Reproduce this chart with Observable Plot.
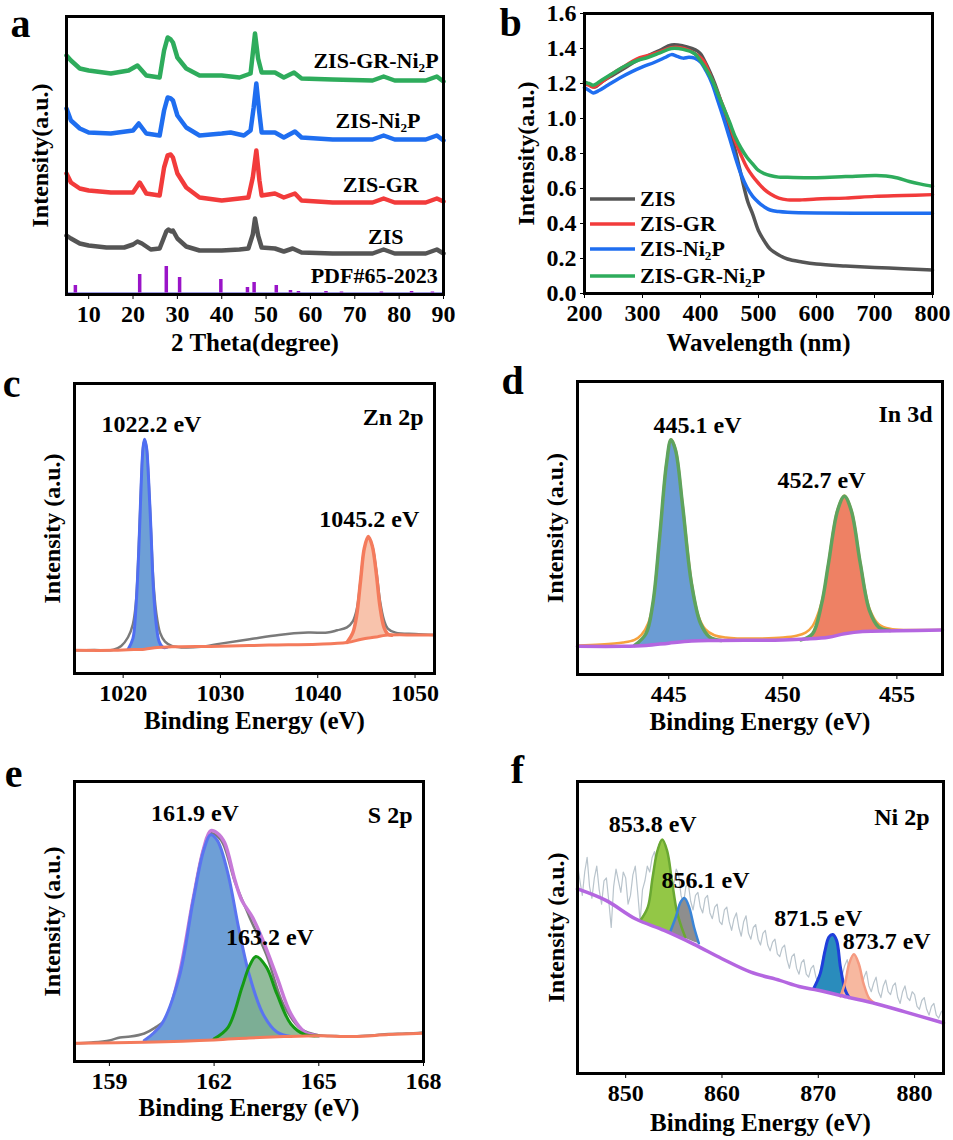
<!DOCTYPE html>
<html>
<head>
<meta charset="utf-8">
<script src="https://cdn.jsdelivr.net/npm/d3@7"></script>
<script src="https://cdn.jsdelivr.net/npm/@observablehq/plot@0.6"></script>
<style>
  body { margin: 0; background: white; }
  #fig { position: relative; width: 953px; height: 1140px; background: white; overflow: hidden; }
</style>
</head>
<body>
<div id="fig"></div>
<script>
// ---------------- Panel a: XRD ----------------
const aTicks = [10, 20, 30, 40, 50, 60, 70, 80, 90];
const xrdZIS = [[5,59],[6,56],[8,51],[10,49],[14,47],[18,47],[20,50],[21,53],[22,51],[24,45],[26,46],[26.8,55],[27.5,63],[28,65],[28.6,63],[29,64],[30,56],[32,48],[35,44],[40,44],[44,45],[46,46],[47,60],[47.5,76],[48.2,59],[49,47],[52,46],[54,43],[56,46],[58,42],[65,41],[74,41],[76.5,45],[79,41],[86,41],[88.5,45],[90,41]];
const xrdGR = [[5,121],[6,112],[8,106],[10,104],[15,102],[20,102],[21.5,112],[23,101],[26,99],[27,127],[27.8,139],[28.5,140],[29,137],[30,121],[32,107],[35,97],[40,94],[44,96],[46,97],[47,117],[47.8,144],[48.5,114],[49,99],[52,101],[54,97],[56.5,101],[58,94],[65,92],[74,92],[76.5,96],[79,92],[86,92],[88.5,96],[90,93]];
const xrdNi = [[5,186],[6,174],[8,166],[10,162],[15,161],[20,164],[21.3,171],[23,161],[26,159],[27,184],[27.8,197],[28.5,196],[29,194],[30,179],[32,167],[35,159],[40,161],[42,162],[45,159],[46.5,164],[47.2,187],[47.8,211],[48.5,181],[49,162],[52,162],[54,157],[56.5,163],[58,157],[65,155],[74,155],[76.5,159],[79,155],[86,155],[88.5,159],[90,154]];
const xrdGRNi = [[5,239],[6,234],[8,226],[10,224],[15,221],[19,224],[21,229],[23,219],[26,217],[27,244],[27.8,257],[28.5,255],[29,252],[30,237],[32,226],[35,219],[40,219],[44,217],[46.5,221],[47,241],[47.5,261],[48.2,236],[49,222],[52,222],[54,217],[56.3,222],[58,216],[65,215],[74,214],[76.5,218],[79,214],[86,214],[88.5,218],[90,213]];
const pdfSticks = [[7.0,9],[21.5,20],[27.5,28],[30.5,17],[39.8,15],[45.8,7],[47.3,12],[52.3,9],[55.5,4],[57.3,3],[63.5,3],[67,2.5],[76,2.5],[82.8,3],[87.5,2.5]];
const pdfBase = 1.5;
const aLabels = [
  {name: "ZIS-GR-Ni₂P", x: 88.9, y: 234},
  {name: "ZIS-Ni₂P", x: 84.8, y: 174},
  {name: "ZIS-GR", x: 84.4, y: 110},
  {name: "ZIS", x: 81.0, y: 58},
  {name: "PDF#65-2023", x: 88.7, y: 19}
];

// ---------------- Panel b: UV-vis ----------------
const bXTicks = [200, 300, 400, 500, 600, 700, 800];
const bYTicks = [0, 0.2, 0.4, 0.6, 0.8, 1.0, 1.2, 1.4, 1.6];
const uvZIS = [[200,1.21],[210,1.19],[218,1.18],[230,1.21],[250,1.25],[270,1.29],[290,1.33],[310,1.36],[330,1.39],[350,1.42],[370,1.415],[385,1.40],[395,1.385],[400,1.37],[410,1.31],[420,1.237],[430,1.15],[440,1.046],[450,0.935],[460,0.817],[467,0.72],[475,0.607],[482,0.52],[490,0.454],[500,0.359],[510,0.30],[520,0.254],[535,0.22],[550,0.197],[575,0.18],[600,0.168],[650,0.157],[700,0.149],[750,0.142],[800,0.134]];
const uvGR = [[200,1.2],[208,1.19],[215,1.18],[230,1.21],[250,1.26],[270,1.30],[290,1.34],[310,1.36],[330,1.38],[350,1.405],[365,1.405],[380,1.39],[395,1.36],[405,1.33],[420,1.22],[440,1.06],[450,0.97],[460,0.87],[470,0.79],[480,0.72],[490,0.67],[500,0.63],[510,0.595],[520,0.57],[535,0.545],[550,0.535],[575,0.535],[600,0.54],[650,0.545],[700,0.555],[750,0.56],[800,0.565]];
const uvNi = [[200,1.176],[208,1.16],[215,1.146],[225,1.16],[240,1.19],[260,1.23],[280,1.265],[300,1.295],[320,1.32],[340,1.35],[350,1.365],[360,1.355],[370,1.345],[380,1.35],[390,1.345],[400,1.323],[410,1.27],[420,1.20],[430,1.10],[440,0.999],[450,0.89],[460,0.779],[470,0.68],[480,0.607],[490,0.555],[500,0.521],[510,0.495],[520,0.477],[535,0.468],[550,0.464],[600,0.46],[700,0.459],[800,0.458]];
const uvGRNi = [[200,1.205],[208,1.2],[215,1.19],[230,1.22],[250,1.26],[270,1.30],[290,1.33],[310,1.35],[330,1.375],[350,1.40],[370,1.395],[390,1.37],[400,1.33],[410,1.28],[420,1.22],[430,1.14],[440,1.06],[450,0.98],[460,0.894],[470,0.83],[480,0.779],[490,0.74],[500,0.703],[510,0.685],[520,0.674],[535,0.665],[550,0.664],[600,0.662],[650,0.668],[700,0.674],[720,0.672],[740,0.66],[760,0.64],[780,0.625],[800,0.613]];
const bNames = ["ZIS", "ZIS-GR", "ZIS-Ni₂P", "ZIS-GR-Ni₂P"];
const bColors = ["#555555", "#f23b3b", "#1f6ef0", "#2eac5c"];

// ---------------- Panel c: Zn 2p ----------------
const cTicks = [1020, 1030, 1040, 1050];
const znRaw = [[1015,8.0],[1017,8.1],[1019,8.2],[1019.8,9.5],[1020.5,12.5],[1021,17],[1021.3,24],[1021.6,43],[1021.85,65],[1022.05,78],[1022.2,80.5],[1022.4,78],[1022.6,68],[1022.85,50],[1023.1,32],[1023.4,21],[1023.8,14],[1024.3,11],[1025,9.5],[1026,9],[1028,9.2],[1030,10.3],[1033,11.8],[1036,13.3],[1039,14.1],[1041,14.1],[1042,14.9],[1043,15.9],[1043.6,18],[1044,22],[1044.4,32],[1044.8,43],[1045.2,47],[1045.6,44],[1046,36],[1046.4,25],[1046.8,18.5],[1047.2,15.5],[1048,14.1],[1050,13.6],[1052,13.3]];
const znBg = [[1015,8.0],[1019,8.0],[1020.5,8.2],[1022.2,8.4],[1023.5,9],[1025,9.2],[1030,9.4],[1035,9.8],[1040,10.1],[1043,10.7],[1044.5,11.8],[1046,12.6],[1047,13.2],[1050,13.3],[1052,13.3]];
const znPeak1 = [[1020.5,8.3,8.3],[1021,12,8.3],[1021.3,22,8.3],[1021.6,42,8.4],[1021.85,65,8.4],[1022.05,78,8.4],[1022.2,80.8,8.4],[1022.4,78,8.5],[1022.6,68,8.5],[1022.85,50,8.6],[1023.1,30,8.7],[1023.4,17,8.8],[1023.7,11,8.9],[1024.1,9,9],[1024.5,9,9]];
const znPeak2 = [[1043,10.7,10.7],[1043.6,14,11.2],[1044,20,11.5],[1044.4,32,11.8],[1044.8,43.4,12.1],[1045.2,47.2,12.4],[1045.6,44,12.6],[1046,35,12.8],[1046.4,23,13],[1046.8,16,13.1],[1047.2,13.6,13.2],[1047.6,13.2,13.2]];
const cLabels = [{t: "1022.2 eV", x: 1022.9, y: 86}, {t: "1045.2 eV", x: 1045.3, y: 53.2}];

// ---------------- Panel d: In 3d ----------------
const dTicks = [445, 450, 455];
const inRaw = [[441,9.9],[442,10.2],[443,10.9],[443.5,11.8],[443.8,13.5],[444.1,17.5],[444.3,24],[444.6,46.9],[444.9,72],[445.1,80.3],[445.3,76.8],[445.6,58.5],[446,31.5],[446.3,20],[446.6,15.5],[447,13.4],[447.5,12.6],[448,12.3],[449,12.3],[450,12.6],[450.6,13.2],[451,14.3],[451.3,16.5],[451.6,22],[451.8,28],[452,37.8],[452.4,56.3],[452.7,61.1],[453,56.3],[453.4,38],[453.8,22.5],[454.2,17.2],[454.7,15.6],[455.5,15.2],[457,15.3]];
const inBg = [[441,9.6],[443,9.6],[444,9.9],[445,10.7],[446,11.4],[447,11.6],[450,11.8],[451,12.1],[452,12.7],[452.7,13.9],[453.5,14.7],[455,14.9],[457,15.2]];
const inPeak1 = [[443.5,9.9,9.9],[444,13.9,9.9],[444.3,24.1,10.2],[444.6,46.9,10.4],[444.9,71.9,10.6],[445.1,80.1,10.7],[445.3,76.5,10.9],[445.6,58.2,11.1],[446,30.9,11.4],[446.4,17.3,11.5],[446.8,12.7,11.6],[447.3,11.6,11.6]];
const inPeak2 = [[450.8,11.8,11.8],[451.3,13.9,12.2],[451.7,24.1,12.5],[452,37.8,12.7],[452.4,56,13.3],[452.7,60.8,13.9],[453,56,14.2],[453.4,37.8,14.5],[453.8,21.8,14.7],[454.2,16.2,14.8],[454.7,15,14.9]];
const dLabels = [{t: "445.1 eV", x: 446.26, y: 85.2}, {t: "452.7 eV", x: 451.7, y: 66.2}];

// ---------------- Panel e: S 2p ----------------
const eTicks = [159, 162, 165, 168];
const sRaw = [[158,6.5],[158.5,6.8],[159,7.5],[159.3,8.6],[159.6,8.9],[160,10],[160.3,12],[160.6,15],[161,30],[161.4,58],[161.7,76],[161.9,81.5],[162.2,79],[162.6,64],[163,52],[163.5,38],[164,20],[164.5,11.5],[165,9.4],[165.5,9.1],[166,9],[166.5,9.3],[167,9.8],[167.5,10],[168,10.4]];
const sBg = [[158,6.5],[160,6.9],[162,7.7],[163,8.4],[164,8.9],[165,9.2],[166,8.9],[167,9.6],[168,10.1]];
const sEnv = [[160.3,10.5],[160.6,14.5],[161,31],[161.4,58],[161.7,76],[161.9,82.4],[162.1,81.5],[162.3,78.2],[162.6,64.6],[162.8,57.4],[163.1,51.5],[163.4,43.2],[163.8,30.1],[164.2,17],[164.6,10.5],[165,9.2]];
const sPeak1 = [[160,7.5,6.9],[160.5,13.4,7.1],[161,30.1,7.3],[161.4,57.4,7.4],[161.7,75.3,7.6],[161.9,81,7.7],[162.1,78.8,7.8],[162.4,66.9,8],[162.7,47.9,8.2],[163,31.3,8.4],[163.4,17,8.6],[163.8,10.5,8.8],[164.2,8.9,8.9]];
const sPeak2 = [[162,8.1,7.7],[162.4,12.2,8],[162.8,26.5,8.3],[163,33.7,8.4],[163.2,37.5,8.5],[163.5,33.7,8.7],[163.8,24.1,8.8],[164.2,13.4,8.9],[164.6,9.6,9.1],[165,9.2,9.2]];
const eLabels = [{t: "161.9 eV", x: 161.45, y: 88.6}, {t: "163.2 eV", x: 163.6, y: 44.4}];

// ---------------- Panel f: Ni 2p ----------------
const fTicks = [850, 860, 870, 880];
const niRaw = [[845,72],[845.25,66],[845.5,61],[845.75,69],[846,74],[846.25,64],[846.5,60],[846.75,67],[847,71],[847.25,63],[847.5,58],[847.75,66],[848,67],[848.25,59],[848.5,50],[848.75,64],[849,70],[849.25,66],[849.5,62],[849.75,69],[850,67],[850.25,58],[850.5,61],[850.75,68],[851,71],[851.25,62],[851.5,52],[851.75,63],[852,66],[852.25,71],[852.5,69],[852.75,74],[853,76],[853.25,70],[853.5,73],[853.75,78],[854,77],[854.25,69],[854.5,67],[854.75,62],[855,65],[855.25,70],[855.5,68],[855.75,61],[856,58],[856.25,64],[856.5,65],[856.75,59],[857,56],[857.25,61],[857.5,62],[857.75,57],[858,55],[858.25,60],[858.5,61],[858.75,55],[859,53],[859.25,57],[859.5,58],[859.75,52],[860,51],[860.25,56],[860.5,57],[860.75,52],[861,49],[861.25,53],[861.5,55],[861.75,50],[862,47],[862.25,52],[862.5,54],[862.75,48],[863,46],[863.25,50],[863.5,51],[863.75,46],[864,44],[864.25,48],[864.5,49],[864.75,44],[865,42],[865.25,45],[865.5,46],[865.75,41],[866,40],[866.25,43],[866.5,44],[866.75,39],[867,36],[867.25,40],[867.5,41],[867.75,36],[868,34],[868.25,38],[868.5,39],[868.75,34],[869,33],[869.25,36],[869.5,37],[869.75,33],[870,31],[870.25,36],[870.5,40],[870.75,43],[871,44],[871.25,40],[871.5,38],[871.75,41],[872,42],[872.25,37],[872.5,34],[872.75,37],[873,39],[873.25,35],[873.5,33],[873.75,36],[874,37],[874.25,32],[874.5,29],[874.75,33],[875,35],[875.25,30],[875.5,28],[875.75,31],[876,33],[876.25,28],[876.5,26],[876.75,30],[877,32],[877.25,28],[877.5,27],[877.75,30],[878,31],[878.25,26],[878.5,24],[878.75,28],[879,30],[879.25,26],[879.5,25],[879.75,28],[880,27],[880.25,23],[880.5,22],[880.75,25],[881,26],[881.25,22],[881.5,20],[881.75,23],[882,24],[882.25,20],[882.5,19],[882.75,21],[883,22]];
const niBg = [[845,63.2],[848,59.2],[851,53],[854,49],[857,44.4],[860,39.3],[863,34.7],[866,31.9],[868,29.8],[870,28.5],[873,26.2],[876,23.9],[879,21.1],[883,17.3]];
const niPeak1 = [[851.5,52.3,52.3],[852.3,57,51.4],[852.8,67.2,50.8],[853.3,76.3,50],[853.8,80.1,49.3],[854.3,76.3,48.6],[854.8,66.1,48],[855.3,55.8,47.3],[855.8,50.1,46.7],[856.2,46.6,46.2]];
const niPeak2 = [[854.6,48.3,48.3],[855.2,53.5,47.5],[855.7,58.7,46.8],[856.1,60.1,46.3],[856.6,56.9,45.7],[857.1,50.1,45],[857.6,44.6,44.4]];
const niPeak3 = [[869.5,29,29],[870.2,34.2,28.3],[870.7,42.1,27.8],[871.1,46.7,27.4],[871.5,47.6,27],[871.9,45.6,26.7],[872.3,36.4,26.4],[872.8,28.5,26.1],[873.2,26,26]];
const niPeak4 = [[872.3,26.4,26.4],[872.8,31.3,26.1],[873.2,37.6,25.9],[873.7,40.8,25.6],[874.2,37.6,25.3],[874.7,30.8,24.9],[875.3,25.6,24.5],[875.8,24.2,24.2]];
const fLabels = [{t: "853.8 eV", x: 852.8, y: 85.4}, {t: "856.1 eV", x: 858.3, y: 66.3}, {t: "871.5 eV", x: 870.0, y: 53.3}, {t: "873.7 eV", x: 877.1, y: 45.2}];

// ---------------- helpers ----------------
const FONT = "'Liberation Serif'";
const fig = document.getElementById("fig");
const X = d => d[0], Y = d => d[1], B = d => d[2];

function line(data, stroke, w, curve = "catmull-rom") {
  return Plot.line(data, {x: X, y: Y, stroke, strokeWidth: w, curve});
}
function area(data, fill, opacity = 1) {
  return Plot.areaY(data, {x: X, y1: B, y2: Y, fill, fillOpacity: opacity, curve: "catmull-rom"});
}
function peakLabels(arr, size = 24) {
  return Plot.text(arr, {x: "x", y: "y", text: "t", fontSize: size, fontWeight: "bold", fontFamily: FONT, fill: "black", textAnchor: "middle"});
}
function corner(t, dx, dy) {
  return Plot.text([t], {text: d => d, frameAnchor: "top-right", textAnchor: "end", dx, dy, fontSize: 24, fontWeight: "bold", fontFamily: FONT});
}

function panel(cfg) {
  const marks = [
    ...cfg.marks,
    Plot.frame({stroke: "black", strokeWidth: 3}),
    Plot.text([cfg.letter], {text: d => d, frameAnchor: "top-left", dx: cfg.letterDx, dy: cfg.letterDy, fontSize: 40, fontWeight: "bold", fontFamily: FONT, textAnchor: "middle"}),
    Plot.text([cfg.xTitle], {text: d => d, frameAnchor: "bottom", dy: cfg.xTitleDy, lineAnchor: "bottom", textAnchor: "middle", fontSize: 25, fontWeight: "bold", fontFamily: FONT}),
    Plot.text([cfg.yTitle], {text: d => d, frameAnchor: "left", dx: cfg.yTitleDx, rotate: -90, textAnchor: "middle", lineAnchor: "middle", fontSize: 24, fontWeight: "bold", fontFamily: FONT})
  ];
  const yOpt = cfg.yTicks
    ? {domain: cfg.yDomain, ticks: cfg.yTicks, tickFormat: d => d.toFixed(1), tickSize: 4, tickPadding: 4, label: null}
    : {domain: cfg.yDomain, axis: null};
  const p = Plot.plot({
    width: cfg.w, height: cfg.h,
    marginLeft: cfg.fl - cfg.left,
    marginTop: cfg.ft - cfg.top,
    marginRight: cfg.left + cfg.w - cfg.fr,
    marginBottom: cfg.top + cfg.h - cfg.fb,
    x: {domain: cfg.xDomain, ticks: cfg.xTicks, tickFormat: d => String(d), tickSize: 5, tickPadding: 5, label: null},
    y: yOpt,
    style: "font-family: 'Liberation Serif'; font-size: 24px; font-weight: bold; color: black; background: transparent; overflow: visible;",
    marks
  });
  p.style.position = "absolute";
  p.style.left = cfg.left + "px";
  p.style.top = cfg.top + "px";
  fig.appendChild(p);
  return p;
}

// ---------------- panel a ----------------
const xrdSeries = [xrdZIS, xrdGR, xrdNi, xrdGRNi];
panel({
  left: 0, top: 0, w: 476, h: 365, fl: 66, ft: 16, fr: 443, fb: 294,
  xDomain: [5, 90], xTicks: aTicks, yDomain: [0, 278],
  letter: "a", letterDx: -46, letterDy: -8,
  xTitle: "2 Theta(degree)", xTitleDy: 56,
  yTitle: "Intensity(a.u.)", yTitleDx: -26,
  marks: [
    Plot.ruleY([pdfBase], {stroke: "#3838c8", strokeWidth: 1}),
    Plot.ruleX(pdfSticks, {x: X, y1: pdfBase, y2: Y, stroke: "#9a14c8", strokeWidth: 3.5}),
    ...xrdSeries.map((s, i) => line(s, bColors[i], 4.5, "linear")),
    Plot.text(aLabels, {x: "x", y: "y", text: "name", textAnchor: "end", fontSize: 22, fontWeight: "bold", fontFamily: FONT})
  ]
});

// ---------------- panel b ----------------
const uvSeries = [uvZIS, uvGR, uvNi, uvGRNi];
const pb = panel({
  left: 476, top: 0, w: 477, h: 365, fl: 584, ft: 13, fr: 932, fb: 293,
  xDomain: [200, 800], xTicks: bXTicks, yDomain: [0, 1.6], yTicks: bYTicks,
  letter: "b", letterDx: -74, letterDy: -6,
  xTitle: "Wavelength (nm)", xTitleDy: 57,
  yTitle: "Intensity(a.u.)", yTitleDx: -58,
  marks: uvSeries.map((s, i) => line(s, bColors[i], 3.5))
});
{
  const g = d3.select(pb).append("g").attr("font-size", 22).attr("font-family", "Liberation Serif").attr("font-weight", "bold").attr("text-anchor", "start");
  const ys = [199, 224, 249, 276];
  bNames.forEach((n, i) => {
    g.append("line").attr("x1", 114).attr("x2", 159).attr("y1", ys[i]).attr("y2", ys[i])
      .attr("stroke", bColors[i]).attr("stroke-width", 3.5);
    g.append("text").attr("x", 164).attr("y", ys[i]).attr("dy", "0.34em").text(n);
  });
}

// ---------------- panel c ----------------
panel({
  left: 0, top: 365, w: 476, h: 395, fl: 74, ft: 383, fr: 434, fb: 673,
  xDomain: [1015, 1052], xTicks: cTicks, yDomain: [0, 100],
  letter: "c", letterDx: -63, letterDy: -15,
  xTitle: "Binding Energy (eV)", xTitleDy: 55,
  yTitle: "Intensity (a.u.)", yTitleDx: -22,
  marks: [
    line(znRaw, "#7a7a7a", 2.5),
    area(znPeak1, "#6e9fd6"),
    area(znPeak2, "#f8c3ac"),
    line(znPeak1, "#4f6ef2", 3),
    line(znPeak2, "#f47b5c", 3.5),
    line(znBg, "#f47b5c", 3),
    peakLabels(cLabels),
    corner("Zn 2p", -11, 24)
  ]
});

// ---------------- panel d ----------------
panel({
  left: 476, top: 365, w: 477, h: 395, fl: 577, ft: 381, fr: 942, fb: 674,
  xDomain: [441, 457], xTicks: dTicks, yDomain: [0, 100],
  letter: "d", letterDx: -65, letterDy: -16,
  xTitle: "Binding Energy (eV)", xTitleDy: 55,
  yTitle: "Intensity (a.u.)", yTitleDx: -22,
  marks: [
    area(inPeak1, "#6b9cd4"),
    area(inPeak2, "#ee8164"),
    line(inRaw, "#f6a23e", 2.5),
    line(inPeak1, "#5ea35e", 3.5),
    line(inPeak2, "#5ea35e", 3.5),
    line(inBg, "#b466e0", 3.5),
    peakLabels(dLabels),
    corner("In 3d", -10, 23)
  ]
});

// ---------------- panel e ----------------
panel({
  left: 0, top: 760, w: 476, h: 380, fl: 74, ft: 781, fr: 423, fb: 1061,
  xDomain: [158, 168], xTicks: eTicks, yDomain: [0, 100],
  letter: "e", letterDx: -61, letterDy: -23,
  xTitle: "Binding Energy (eV)", xTitleDy: 54,
  yTitle: "Intensity (a.u.)", yTitleDx: -22,
  marks: [
    line(sRaw, "#7a7a7a", 2.5),
    line(sEnv, "#c77ad8", 3.5),
    area(sPeak1, "#6e9fd6"),
    area(sPeak2, "#7fb089", 0.85),
    line(sPeak1, "#5a74f0", 3),
    line(sPeak2, "#149a14", 3),
    line(sBg, "#f47b5c", 3),
    peakLabels(eLabels),
    corner("S 2p", -11, 24)
  ]
});

// ---------------- panel f ----------------
panel({
  left: 476, top: 760, w: 477, h: 380, fl: 577, ft: 781, fr: 943, fb: 1073,
  xDomain: [845, 883], xTicks: fTicks, yDomain: [0, 100],
  letter: "f", letterDx: -60, letterDy: -27,
  xTitle: "Binding Energy (eV)", xTitleDy: 57,
  yTitle: "Intensity (a.u.)", yTitleDx: -21,
  marks: [
    line(niRaw, "#b9c4cc", 1.2, "linear"),
    area(niPeak1, "#93c746"),
    area(niPeak2, "#8e8e8e"),
    area(niPeak3, "#2a8cbc"),
    area(niPeak4, "#f7b8a0"),
    line(niPeak1, "#6aa832", 2.5),
    line(niPeak2, "#3a84d6", 2.5),
    line(niPeak3, "#1f3fdb", 3),
    line(niPeak4, "#f59a80", 2.5),
    line(niBg, "#b466e0", 3.5),
    peakLabels(fLabels),
    corner("Ni 2p", -14, 26)
  ]
});
</script>
</body>
</html>
